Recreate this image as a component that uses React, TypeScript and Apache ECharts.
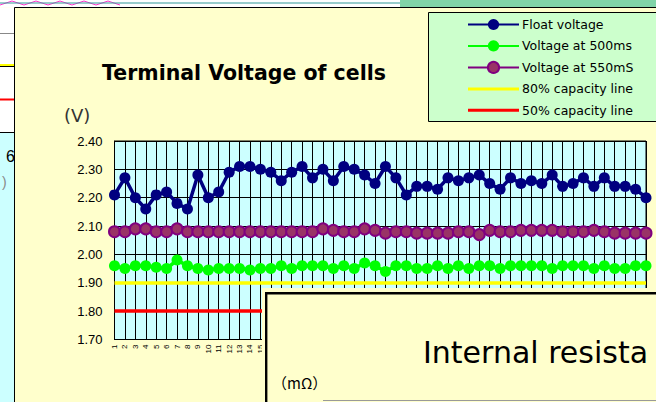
import React, { useEffect, useRef } from 'react';
import * as echarts from 'echarts';

const cellLabels = [
  '1','2','3','4','5','6','7','8','9','10','11','12','13','14','15','16','17','18','19','20',
  '21','22','23','24','25','26','27','28','29','30','31','32','33','34','35','36','37','38','39','40',
  '41','42','43','44','45','46','47','48','49','50','51','52',
];

const floatVoltage = [
  2.21, 2.27, 2.20, 2.16, 2.21, 2.22, 2.18, 2.16, 2.28, 2.20,
  2.22, 2.29, 2.31, 2.31, 2.30, 2.29, 2.26, 2.29, 2.31, 2.27,
  2.30, 2.26, 2.31, 2.30, 2.28, 2.25, 2.31, 2.27, 2.21, 2.24,
  2.24, 2.23, 2.27, 2.26, 2.27, 2.28, 2.25, 2.23, 2.27, 2.25,
  2.26, 2.25, 2.28, 2.24, 2.25, 2.27, 2.24, 2.27, 2.24, 2.24,
  2.23, 2.20,
];

const voltage500ms = [
  1.96, 1.95, 1.96, 1.96, 1.955, 1.95, 1.98, 1.96, 1.95, 1.945,
  1.95, 1.95, 1.95, 1.945, 1.95, 1.95, 1.96, 1.95, 1.96, 1.96,
  1.96, 1.95, 1.96, 1.95, 1.97, 1.96, 1.94, 1.96, 1.96, 1.95,
  1.95, 1.96, 1.95, 1.96, 1.95, 1.96, 1.96, 1.95, 1.96, 1.96,
  1.96, 1.96, 1.95, 1.96, 1.96, 1.96, 1.95, 1.96, 1.95, 1.95,
  1.96, 1.96,
];

const voltage550ms = [
  2.08, 2.08, 2.09, 2.09, 2.08, 2.08, 2.09, 2.08, 2.08, 2.08,
  2.08, 2.08, 2.08, 2.08, 2.08, 2.08, 2.08, 2.08, 2.08, 2.08,
  2.09, 2.085, 2.08, 2.08, 2.09, 2.085, 2.075, 2.08, 2.08, 2.075,
  2.075, 2.075, 2.075, 2.08, 2.08, 2.07, 2.085, 2.08, 2.08, 2.085,
  2.085, 2.085, 2.085, 2.08, 2.08, 2.08, 2.085, 2.08, 2.075, 2.075,
  2.075, 2.075,
];

const capacity80Level = 1.9;
const capacity50Level = 1.8;

const yTicks = { min: 1.7, max: 2.4, interval: 0.1 };

const seriesNames = [
  'Float voltage',
  'Voltage at 500ms',
  'Voltage at 550mS',
  '80% capacity line',
  '50% capacity line',
];

export default function App() {
  const ref = useRef<HTMLDivElement>(null);

  useEffect(() => {
    if (!ref.current) return;
    const chart = echarts.init(ref.current, undefined, { renderer: 'svg' });
    const barIcon = 'path://M0,0H51V3H0Z';
    const option: any = {
      animation: false,
      backgroundColor: '#FFFFCC',
      title: {
        text: 'Terminal Voltage of cells',
        left: 102,
        top: 62,
        padding: 0,
        textStyle: {
          fontSize: 20.5,
          fontWeight: 'bold',
          fontFamily: 'DejaVu Sans',
          color: '#000',
        },
      },
      legend: {
        orient: 'vertical',
        left: 467,
        top: 18,
        padding: 0,
        itemWidth: 51,
        itemHeight: 14,
        itemGap: 8.4,
        selectedMode: false,
        textStyle: { fontSize: 12.5, fontFamily: 'DejaVu Sans', color: '#000', padding: [0, 0, 0, -2] },
        data: [
          { name: seriesNames[0] },
          { name: seriesNames[1] },
          { name: seriesNames[2] },
          { name: seriesNames[3], icon: barIcon },
          { name: seriesNames[4], icon: barIcon },
        ],
      },
      grid: {
        left: 114.5,
        top: 141,
        right: 10,
        bottom: 62.5,
        show: true,
        backgroundColor: '#CCFFFF',
        borderColor: '#000',
        borderWidth: 1,
      },
      xAxis: {
        type: 'category',
        data: cellLabels,
        boundaryGap: false,
        axisLine: { lineStyle: { color: '#000', width: 1 } },
        axisTick: { show: false },
        axisLabel: {
          interval: 0,
          rotate: 90,
          fontSize: 8,
          margin: 5,
          color: '#000',
          fontFamily: 'Liberation Sans',
        },
        splitLine: { show: true, interval: 0, lineStyle: { color: '#000', width: 1 } },
      },
      yAxis: {
        type: 'value',
        min: yTicks.min,
        max: yTicks.max,
        interval: yTicks.interval,
        axisLine: { show: true, lineStyle: { color: '#000' } },
        axisTick: { show: false },
        axisLabel: {
          formatter: (v: number) => v.toFixed(2),
          fontSize: 13,
          fontFamily: 'Liberation Sans',
          color: '#000',
          margin: 12,
        },
        splitLine: { show: true, lineStyle: { color: '#000', width: 1 } },
      },
      series: [
        {
          name: seriesNames[0],
          type: 'line',
          data: floatVoltage,
          symbol: 'circle',
          symbolSize: 11,
          color: '#000080',
          lineStyle: { width: 3.5, color: '#000080' },
          itemStyle: { color: '#000080' },
          emphasis: { disabled: true },
          z: 5,
        },
        {
          name: seriesNames[1],
          type: 'line',
          data: voltage500ms,
          symbol: 'circle',
          symbolSize: 11,
          color: '#00FF00',
          lineStyle: { width: 3.5, color: '#00FF00' },
          itemStyle: { color: '#00FF00' },
          emphasis: { disabled: true },
          z: 4,
        },
        {
          name: seriesNames[2],
          type: 'line',
          data: voltage550ms,
          symbol: 'circle',
          symbolSize: 11,
          color: '#993366',
          lineStyle: { width: 3.5, color: '#800080' },
          itemStyle: { color: '#993366', borderColor: '#800080', borderWidth: 2 },
          emphasis: { disabled: true },
          z: 4,
        },
        {
          name: seriesNames[3],
          type: 'line',
          data: [],
          color: '#FFFF00',
          markLine: {
            silent: true,
            symbol: 'none',
            label: { show: false },
            lineStyle: { color: '#FFFF00', width: 3.5, type: 'solid' },
            emphasis: { disabled: true },
            data: [{ yAxis: capacity80Level }],
          },
        },
        {
          name: seriesNames[4],
          type: 'line',
          data: [],
          color: '#FF0000',
          markLine: {
            silent: true,
            symbol: 'none',
            label: { show: false },
            lineStyle: { color: '#FF0000', width: 3.5, type: 'solid' },
            emphasis: { disabled: true },
            data: [{ yAxis: capacity50Level }],
          },
        },
      ],
      graphic: [
        // strip of the window behind, along the top
        { type: 'rect', z: 0, shape: { x: 0, y: 0, width: 656, height: 7.5 }, style: { fill: '#FFFFFF' } },
        { type: 'polyline', z: 0, shape: { points: [[0, 5], [12, 1], [24, 5], [36, 1], [48, 5], [60, 1], [72, 5], [84, 1], [96, 5], [108, 1], [120, 5]] }, style: { stroke: '#FF33CC', lineWidth: 1, fill: 'none' } },
        { type: 'line', z: 0, shape: { x1: 0, y1: 3, x2: 400, y2: 3 }, style: { stroke: '#339999', lineWidth: 1 } },
        { type: 'rect', z: 0, shape: { x: 400, y: 0, width: 256, height: 7.5 }, style: { fill: '#80D4A8' } },
        // strip of the window behind, on the left
        { type: 'rect', z: 0, shape: { x: 0, y: 7.5, width: 14.5, height: 125 }, style: { fill: '#FFFFFF' } },
        { type: 'line', z: 0, shape: { x1: 0, y1: 33.5, x2: 14.5, y2: 33.5 }, style: { stroke: '#888', lineWidth: 1 } },
        { type: 'line', z: 0, shape: { x1: 0, y1: 65, x2: 14.5, y2: 65 }, style: { stroke: '#FFFF00', lineWidth: 2 } },
        { type: 'line', z: 0, shape: { x1: 0, y1: 66.5, x2: 14.5, y2: 66.5 }, style: { stroke: '#000', lineWidth: 1 } },
        { type: 'line', z: 0, shape: { x1: 0, y1: 99.5, x2: 14.5, y2: 99.5 }, style: { stroke: '#FF0000', lineWidth: 2 } },
        { type: 'line', z: 0, shape: { x1: 0, y1: 132.5, x2: 14.5, y2: 132.5 }, style: { stroke: '#000', lineWidth: 1 } },
        { type: 'rect', z: 0, shape: { x: 0, y: 133, width: 14.5, height: 269 }, style: { fill: '#CCFFFF' } },
        { type: 'text', z: 1, style: { x: 6, y: 156, text: '6', font: '16px "Liberation Sans"', fill: '#000', verticalAlign: 'middle', textVerticalAlign: 'middle' } },
        { type: 'text', z: 1, style: { x: 2, y: 182, text: ')', font: '14px "Liberation Sans"', fill: '#888', verticalAlign: 'middle', textVerticalAlign: 'middle' } },
        { type: 'line', z: 2, shape: { x1: 14.5, y1: 7.5, x2: 14.5, y2: 402 }, style: { stroke: '#000', lineWidth: 1 } },
        { type: 'line', z: 2, shape: { x1: 14.5, y1: 7.5, x2: 656, y2: 7.5 }, style: { stroke: '#000', lineWidth: 1 } },
        // legend box
        { type: 'rect', z: 1, shape: { x: 428.5, y: 12.5, width: 240, height: 109 }, style: { fill: '#CCFFCC', stroke: '#000', lineWidth: 1 } },
        // unit label
        { type: 'text', z: 1, style: { x: 64, y: 115, text: '(V)', font: '18px "DejaVu Sans"', fill: '#333', verticalAlign: 'middle', textVerticalAlign: 'middle' } },
        // overlapping window at bottom right
        { type: 'rect', z: 100, shape: { x: 262, y: 288, width: 400, height: 120 }, style: { fill: '#FFFFCC' } },
        { type: 'rect', z: 101, shape: { x: 266.2, y: 293.2, width: 400, height: 120 }, style: { fill: '#FFFFCC', stroke: '#000', lineWidth: 2.4 } },
        { type: 'text', z: 102, style: { x: 423, y: 352, text: 'Internal resista', font: '30px "DejaVu Sans"', fill: '#000', verticalAlign: 'middle', textVerticalAlign: 'middle' } },
        { type: 'text', z: 102, style: { x: 272, y: 382, text: '（mΩ）', font: '15px "Noto Sans CJK JP"', fill: '#000', verticalAlign: 'middle', textVerticalAlign: 'middle' } },
        { type: 'line', z: 102, shape: { x1: 323, y1: 400.5, x2: 656, y2: 400.5 }, style: { stroke: '#999', lineWidth: 1 } },
      ],
    };
    chart.setOption(option);
    return () => chart.dispose();
  }, []);

  return (
    <div
      ref={ref}
      style={{ position: 'fixed', left: 0, top: 0, width: 656, height: 402, overflow: 'hidden' }}
    />
  );
}
